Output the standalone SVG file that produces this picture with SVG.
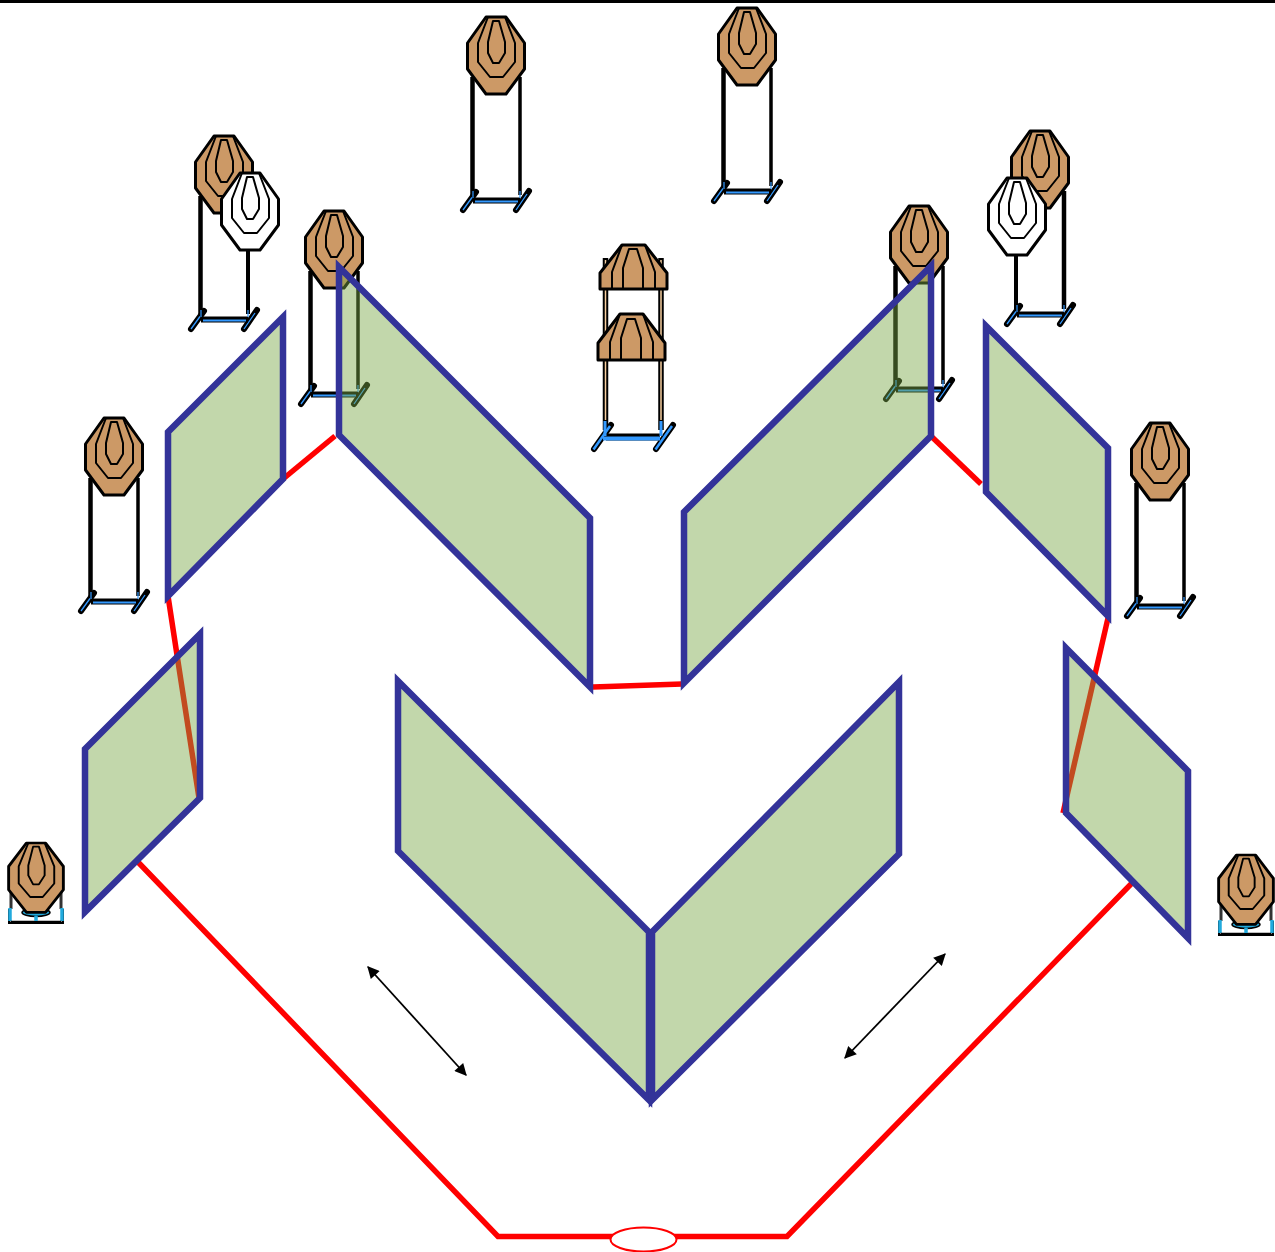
<svg xmlns="http://www.w3.org/2000/svg" xmlns:xlink="http://www.w3.org/1999/xlink" width="1275" height="1252" viewBox="0 0 1275 1252">
<style>
.o{stroke:#000;stroke-width:3;stroke-linejoin:round}
.r{fill:none;stroke:#000;stroke-width:2;stroke-linejoin:round}
.b{fill:#cc9966}.w{fill:#fff}
.pk{fill:none;stroke:#000;stroke-linecap:butt}
.ft{stroke:#000;stroke-width:6;stroke-linecap:round;fill:none}
.fi{stroke:#3399ff;stroke-width:1.300;fill:none}
.panel{fill:#78a645;fill-opacity:.45;stroke:#333399;stroke-width:6.500;stroke-linejoin:miter;stroke-miterlimit:6}
.red{fill:none;stroke:#ff0000;stroke-width:5.500}
.arrow{stroke:#000;stroke-width:1.800;fill:none;marker-start:url(#ah);marker-end:url(#ah)}
</style>
<defs>
<marker id="ah" viewBox="0 0 10 10" refX="9" refY="5" markerWidth="15" markerHeight="12" markerUnits="userSpaceOnUse" orient="auto-start-reverse"><path d="M0 0L10 5L0 10z" fill="#000"/></marker>
<g id="head-lines">
<polygon points="-10,0 10,0 28.500,26 28.500,52 10,77 -10,77 -28.500,52 -28.500,26"/>
</g>
<g id="rings">
<path class="r" d="M-8,0L-18,26V45L-6,60H7L19,45V26L9,0"/>
<path class="r" d="M-3,4H3L9,25V36L3,46H-3L-8,36V25Z"/>
</g>
<g id="brown"><use xlink:href="#head-lines" class="o b"/><use xlink:href="#rings"/></g>
<g id="white"><use xlink:href="#head-lines" class="o w"/><use xlink:href="#rings"/></g>
<g id="base">
<path class="ft" d="M-33,193L-20,175M20,193L33,174"/>
<path class="fi" d="M-33,193L-24,180.500M20,193L31,177"/>
<path d="M-23,183.500H24" stroke="#000" stroke-width="6" fill="none"/>
<path d="M-21,184.500H22" stroke="#3399ff" stroke-width="2.200" fill="none"/>
<path d="M-23,174V181M24,174V181" stroke="#3399ff" stroke-width="1.200" fill="none"/>
</g>
<g id="stand">
<path class="pk" stroke-width="4.500" d="M-23.500,60V178"/>
<path class="pk" stroke-width="3.500" d="M24,60V178"/>
<use xlink:href="#base"/>
<use xlink:href="#brown"/>
</g>
<g id="low">
<path d="M-25,45V66M25,45V66" stroke="#333" stroke-width="3" fill="none"/>
<path d="M-27,66V80H27V66" fill="none" stroke="#000" stroke-width="2"/>
<path d="M-26,65V78M26,65V78" stroke="#22aadd" stroke-width="3.500" fill="none"/>
<path d="M-25.500,79H25.500" stroke="#000" stroke-width="2.500" fill="none"/>
<ellipse cx="0" cy="69.500" rx="14" ry="4" fill="#22aadd" stroke="#000" stroke-width="1.500"/>
<path d="M0,73V78" stroke="#22aadd" stroke-width="3.500"/>
<g transform="scale(.96 .9)"><use xlink:href="#brown"/></g>
</g>
</defs>
<rect width="1275" height="1252" fill="#fff"/>
<rect width="1275" height="3" fill="#000"/>
<g id="target-1" transform="translate(496 17)"><use xlink:href="#stand"/></g>
<g id="target-2" transform="translate(747 8)"><use xlink:href="#stand"/></g>
<g id="target-3" transform="translate(224 136)"><path class="pk" stroke-width="4.500" d="M-23.500,60V178"/><path class="pk" stroke-width="4" d="M24,100V178"/><use xlink:href="#base"/><use xlink:href="#brown"/><use xlink:href="#white" x="26" y="37"/></g>
<g id="target-4" transform="translate(334 211)"><use xlink:href="#stand"/></g>
<g id="target-5" transform="translate(919 206)"><use xlink:href="#stand"/></g>
<g id="target-6" transform="translate(1040 131)"><path class="pk" stroke-width="4.500" d="M24,60V178"/><path class="pk" stroke-width="4" d="M-24,110V178"/><use xlink:href="#base"/><use xlink:href="#brown"/><use xlink:href="#white" x="-23" y="47"/></g>
<g id="target-7" transform="translate(114 418)"><use xlink:href="#stand"/></g>
<g id="target-8" transform="translate(1160 423)"><use xlink:href="#stand"/></g>
<g id="target-9" transform="translate(36 843)"><use xlink:href="#low"/></g>
<g id="target-10" transform="translate(1246 855)"><use xlink:href="#low"/></g>
<g id="target-11">
<path d="M605.500,258V430M661,258V430" stroke="#000" stroke-width="5.500" fill="none"/>
<path d="M605.500,260V420M661,260V420" stroke="#f8cfa0" stroke-width="1.500" fill="none"/>
<path class="ft" d="M594,449L611,425M656,449L673,425"/>
<path d="M593.500,449.500L610,426M655.500,449.500L672,426" stroke="#3399ff" stroke-width="2.500" fill="none"/>
<path d="M606,437H660" stroke="#000" stroke-width="7" fill="none"/>
<path d="M603,438.500H660" stroke="#3399ff" stroke-width="4" fill="none"/>
<path d="M605,421V436M661,421V436" stroke="#3399ff" stroke-width="3" fill="none"/>
<path class="o b" d="M622,245H645L667,273V289H600V273Z"/>
<path class="r" d="M612,289V272L622,245M655,289V272L645,245M623,289V268L629,249H637L643,268V289"/>
<path class="o b" d="M620,314H643L665,343V360H598V343Z"/>
<path class="r" d="M610,360V342L620,314M653,360V342L643,314M621,360V338L627,319H635L641,338V360"/>
</g>
<g id="connectors">
<path class="red" d="M283,479L335,436"/>
<path class="red" d="M168,596L177,655L199,798"/>
<path class="red" d="M593,687L682,684"/>
<path class="red" d="M932,437L981,484"/>
<path class="red" d="M1108,618L1063,813"/>
<path class="red" d="M137,861L498,1236.500H787L1132,883"/>
<path class="arrow" d="M368,967L466,1075"/>
<path class="arrow" d="M945,954L845,1058"/>
</g>
<g id="gate"><ellipse cx="643.500" cy="1239.500" rx="33" ry="12" fill="#fff" stroke="#ff0000" stroke-width="2"/></g>
<g id="wall-1"><polygon class="panel" points="168,432 283,317 283,479 168,596"/></g>
<g id="wall-2"><polygon class="panel" points="339,267 590,518 590,687 339,435"/></g>
<g id="wall-3"><polygon class="panel" points="684,512 931,266 931,436 684,683"/></g>
<g id="wall-4"><polygon class="panel" points="986,326 1108,448 1108,616 986,492"/></g>
<g id="wall-5"><polygon class="panel" points="85,749 200,634 200,798 85,912"/></g>
<g id="wall-6"><polygon class="panel" points="398,681 649,932 649,1100 398,851"/></g>
<g id="wall-7"><polygon class="panel" points="899,682 652,932 652,1100 899,854"/></g>
<g id="wall-8"><polygon class="panel" points="1066,648 1188,771 1188,938 1066,813"/></g>
</svg>
